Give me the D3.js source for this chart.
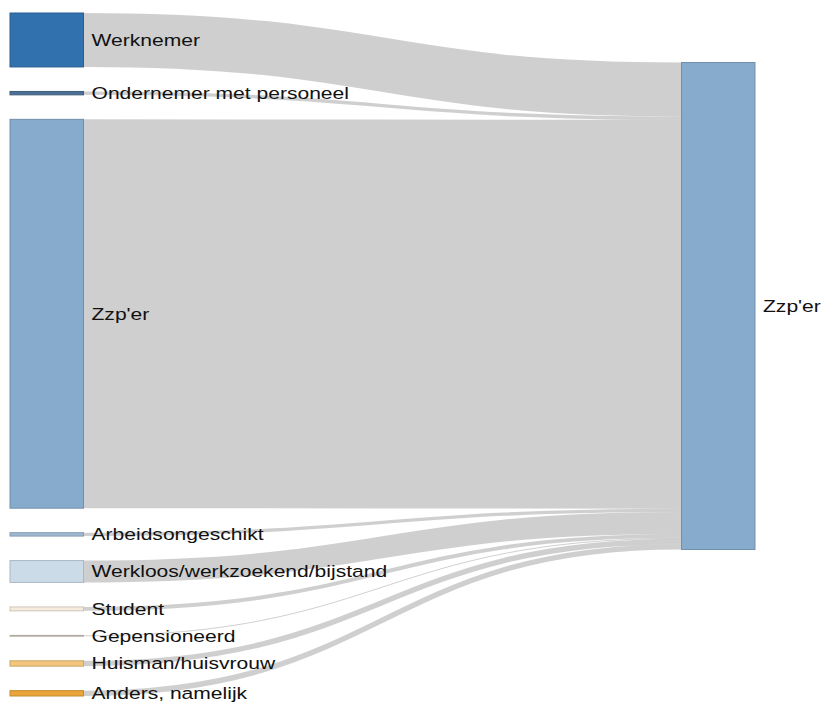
<!DOCTYPE html>
<html>
<head>
<meta charset="utf-8">
<script src="https://cdn.jsdelivr.net/npm/d3@7"></script>
<style>
  html, body { margin: 0; padding: 0; background: #fff; }
  svg { display: block; }
</style>
</head>
<body>
<div id="chart"></div>
<script>
// Previous labour-market status of current self-employed (zzp'ers)
const sourceNames = [
  "Werknemer",
  "Ondernemer met personeel",
  "Zzp'er",
  "Arbeidsongeschikt",
  "Werkloos/werkzoekend/bijstand",
  "Student",
  "Gepensioneerd",
  "Huisman/huisvrouw",
  "Anders, namelijk"
];
const flowValues = [111, 7, 800, 7, 45, 8, 2, 11, 11];
const sourceColors = [
  "#3171ad", "#4b6f95", "#87abcc", "#9fb9d2", "#ccdbe8",
  "#f6ecdd", "#b3aa9e", "#f3c67b", "#e9a539"
];
const targetName = "Zzp'er";
const targetColor = "#87abcc";

const W = 823, H = 704;
const extent = { x0: 10, x1: 755, y0: 13, y1: 696 };
const nodeWidth = 73.5, nodePadding = 24.5;
const labelGap = 8, labelStretch = 1.24;

const svg = d3.select("#chart").append("svg")
  .attr("width", W).attr("height", H);

// --- layout -------------------------------------------------------------
const total = d3.sum(flowValues);
const ky = (extent.y1 - extent.y0 - (sourceNames.length - 1) * nodePadding) / total;
const size = d3.scaleLinear().domain([0, total]).range([0, total * ky]);

const nodes = sourceNames.map((name, i) => ({ name, value: flowValues[i], color: sourceColors[i] }));
let yPos = extent.y0;
nodes.forEach(n => {
  n.x0 = extent.x0; n.x1 = extent.x0 + nodeWidth;
  n.y0 = yPos; n.y1 = yPos + size(n.value);
  yPos = n.y1 + nodePadding;
});

// target node sits at the value-weighted centre of its incoming flows
const tgt = { name: targetName, value: total, color: targetColor,
  x0: extent.x1 - nodeWidth, x1: extent.x1 };
const centre = d3.sum(nodes, n => n.value * (n.y0 + n.y1) / 2) / total;
tgt.y0 = centre - size(total) / 2;
tgt.y1 = centre + size(total) / 2;

let ty = tgt.y0;
const links = nodes.map(n => {
  const w = size(n.value);
  const l = { source: n, target: tgt, value: n.value, width: w,
    y0: (n.y0 + n.y1) / 2, y1: ty + w / 2 };
  ty += w;
  return l;
});

// --- links --------------------------------------------------------------
const linkPath = d3.linkHorizontal()
  .source(d => [d.source.x1, d.y0])
  .target(d => [d.target.x0, d.y1]);

svg.append("g")
  .attr("fill", "none")
  .attr("stroke", "#000")
  .attr("stroke-opacity", 0.19)
  .selectAll("path")
  .data(links)
  .join("path")
  .attr("d", linkPath)
  .attr("stroke-width", d => Math.max(1, d.width));

// --- nodes --------------------------------------------------------------
const allNodes = nodes.concat([tgt]);
svg.append("g")
  .selectAll("rect")
  .data(allNodes)
  .join("rect")
  .attr("x", d => d.x0)
  .attr("y", d => d.y0)
  .attr("width", d => d.x1 - d.x0)
  .attr("height", d => Math.max(0.8, d.y1 - d.y0))
  .attr("fill", d => d.color)
  .attr("stroke", d => d3.color(d.color).darker(0.5))
  .attr("stroke-opacity", d => (d.y1 - d.y0) < 2 ? 0.5 : 1)
  .attr("stroke-width", 1);

// --- labels -------------------------------------------------------------
svg.append("g")
  .attr("font-family", "'Liberation Sans', Arial, sans-serif")
  .attr("font-size", 17)
  .attr("fill", "#111")
  .selectAll("text")
  .data(allNodes)
  .join("text")
  .attr("transform", d => `translate(${d.x1 + labelGap},${(d.y0 + d.y1) / 2}) scale(${labelStretch},1)`)
  .attr("dy", "0.35em")
  .attr("text-anchor", "start")
  .text(d => d.name);
</script>
</body>
</html>
